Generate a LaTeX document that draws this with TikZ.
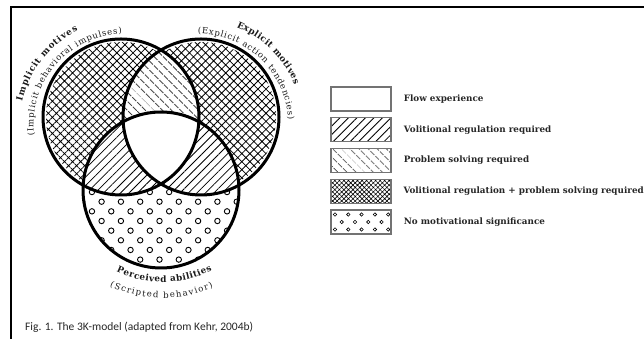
\documentclass[tikz,border=0pt]{standalone}
\usepackage{fontspec}
\setmainfont{DejaVu Serif}
\newfontfamily\capfont{Carlito}
\usetikzlibrary{patterns.meta,decorations.text,calc}
\begin{document}
\begin{tikzpicture}[x=1pt,y=1pt,
  ring/.style={line width=0.9pt},
  ringsmall/.style={line width=0.6pt},
  circ/.style={line width=3pt},
  legbox/.style={draw=black!55, line width=1.3pt, minimum width=60pt, minimum height=24pt, inner sep=0pt},
  legtext/.style={anchor=west, inner sep=0pt, font=\bfseries\fontsize{8.8}{10}\selectfont, text=black!85},
  cross/.style={pattern={Hatch[angle=45,distance=5.7pt,line width=0.8pt]}},
  volit/.style={pattern={Lines[angle=45,distance=6pt,line width=0.8pt]}},
  probl/.style={pattern={Lines[angle=-45,distance=6.5pt,line width=0.8pt]}}
]
\useasboundingbox (0,0) rectangle (644,339);
\clip (0,0) rectangle (644,339);

% frame
\draw[line width=2pt] (11,0) -- (11,331.5) -- (646,331.5);

\coordinate (L) at (121,222);
\coordinate (R) at (201,222);
\coordinate (B) at (161,149);
\coordinate (TL) at (125,214);
\coordinate (TR) at (197,214);
\coordinate (TB) at (163,167);

% rings in bottom circle
\begin{scope}
\clip (B) circle (78);
\foreach \i in {-5,...,5} {
  \foreach \j in {-1,...,4} {
    \draw[ring] (159.5+19.3*\i, 137.3-19.3*\j) circle (2.7);
    \draw[ring] (149.85+19.3*\i, 127.65-19.3*\j) circle (2.7);
  }
}
\end{scope}

% left and right circles: crosshatch
\fill[white] (L) circle (78);
\fill[white] (R) circle (78);
\fill[cross] (L) circle (75);
\fill[cross] (R) circle (75);

% lenses
\begin{scope}
\clip (L) circle (78);
\fill[white] (R) circle (78);
\fill[probl] (R) circle (78);
\end{scope}
\begin{scope}
\clip (B) circle (78);
\fill[white] (L) circle (78);
\fill[volit] (L) circle (78);
\fill[white] (R) circle (78);
\fill[volit] (R) circle (78);
\end{scope}
% centre
\begin{scope}
\clip (L) circle (78);
\clip (R) circle (78);
\fill[white] (B) circle (78);
\end{scope}

% circle outlines
\draw[circ] (L) circle (78);
\draw[circ] (R) circle (78);
\draw[circ] (B) circle (78);

% curved labels
\path[decorate, decoration={text along path, text align=fit to path, text color=black!90,
  text={|\bfseries\fontsize{8.8}{10}\selectfont|Implicit motives}}]
  ([shift={(167:105.5)}]TL) arc[start angle=167, end angle=116.5, radius=105.5];
\path[decorate, decoration={text along path, text align=fit to path, text color=black!90,
  text={|\fontsize{8.5}{10}\selectfont|(Implicit behavioral impulses)}}]
  ([shift={(186.5:91.5)}]TL) arc[start angle=186.5, end angle=92, radius=91.5];
\path[decorate, decoration={text along path, text align=fit to path, text color=black!90,
  text={|\bfseries\fontsize{8.8}{10}\selectfont|Explicit motives}}]
  ([shift={(68:105.5)}]TR) arc[start angle=68, end angle=22.5, radius=105.5];
\path[decorate, decoration={text along path, text align=fit to path, text color=black!90,
  text={|\fontsize{8.5}{10}\selectfont|(Explicit action tendencies)}}]
  ([shift={(89.5:91.5)}]TR) arc[start angle=89.5, end angle=3.5, radius=91.5];
\path[decorate, decoration={text along path, text align=fit to path, text color=black!90,
  text={|\bfseries\fontsize{8.8}{10}\selectfont|Perceived abilities}}]
  ([shift={(245:110)}]TB) arc[start angle=245, end angle=296.5, radius=110];
\path[decorate, decoration={text along path, text align=fit to path, text color=black!90,
  text={|\fontsize{8.5}{10}\selectfont|(Scripted behavior)}}]
  ([shift={(245:126)}]TB) arc[start angle=245, end angle=293.5, radius=126];

% legend
\node[legbox] (b1) at (361,240) {};
\node[legbox, volit] (b2) at (361,209.25) {};
\node[legbox, probl] (b3) at (361,178.5) {};
\node[legbox, pattern={Hatch[angle=45,distance=3.2pt,line width=0.6pt]}] (b4) at (361,147.75) {};
\begin{scope}
\clip (331,105) rectangle (391,129);
\foreach \i in {-1,...,5} {
  \draw[ringsmall] (335+13.3*\i,124.5) circle (1.7);
  \draw[ringsmall] (341.7+13.3*\i,117) circle (1.7);
  \draw[ringsmall] (335+13.3*\i,109.5) circle (1.7);
}
\end{scope}
\node[legbox] (b5) at (361,117) {};

\node[legtext] (t1) at ([xshift=12pt]b1.east) {Flow experience};
\node[legtext] (t2) at ([xshift=12pt]b2.east) {Volitional regulation required};
\node[legtext] (t3) at ([xshift=12pt]b3.east) {Problem solving required};
\node[legtext] (t4) at ([xshift=12pt]b4.east) {Volitional regulation + problem solving required};
\node[legtext] (t5) at ([xshift=12pt]b5.east) {No motivational significance};

% caption
\node[anchor=base west, inner sep=0pt, font=\capfont\fontsize{11.5}{13}\selectfont, text=black!85] (cap) at (25,8.5) {Fig. 1. The 3K-model (adapted from Kehr, 2004b)};
\end{tikzpicture}
\end{document}
